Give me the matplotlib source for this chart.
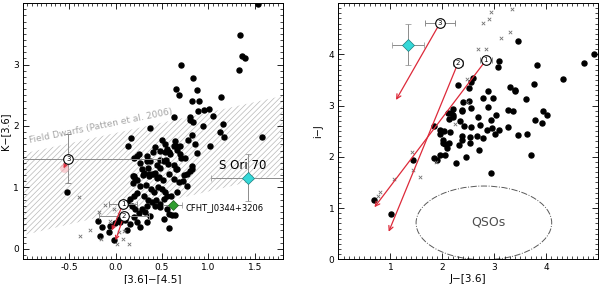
import numpy as np
import matplotlib
matplotlib.use('Agg')
import matplotlib.pyplot as plt
from matplotlib.patches import Ellipse
from matplotlib.ticker import MultipleLocator

plt.rcParams['font.family'] = ['DejaVu Sans']
plt.rcParams['hatch.linewidth'] = 0.5

# ---------------- left panel data: K-[3.6] vs [3.6]-[4.5] ----------------
left_dots = [
    (1.336, 3.485), (1.36, 3.14), (1.40, 3.10), (1.33, 2.91), (0.706, 3.0), (0.836, 2.78),
    (0.656, 2.60), (0.879, 2.59), (0.68, 2.50), (1.14, 2.47), (0.825, 2.40), (0.896, 2.40),
    (0.95, 2.26), (0.886, 2.24), (1.01, 2.28), (1.055, 2.165), (0.63, 2.14), (0.80, 2.14),
    (0.807, 2.105), (0.836, 2.07), (0.367, 1.97), (0.947, 2.0), (1.163, 2.04), (1.12, 1.91),
    (1.17, 1.825), (1.58, 1.825), (0.825, 1.857), (0.17, 1.81), (0.504, 1.765), (0.645, 1.75),
    (0.78, 1.775), (1.53, 3.99), (0.53, 1.71), (0.656, 1.68), (0.475, 1.60), (0.404, 1.575),
    (0.555, 1.63), (0.572, 1.575), (0.59, 1.55), (0.879, 1.56), (1.015, 1.68), (0.70, 1.48),
    (0.548, 1.44), (0.562, 1.386), (0.475, 1.44), (0.447, 1.36), (0.483, 1.32), (0.626, 1.36),
    (0.656, 1.305), (0.825, 1.305), (0.807, 1.266), (0.734, 1.196), (0.41, 1.22), (0.447, 1.16),
    (0.134, 1.67), (0.256, 1.537), (0.342, 1.43), (0.285, 1.305), (0.345, 1.32), (0.356, 1.22),
    (0.188, 1.18), (0.213, 1.14), (0.30, 1.196), (0.422, 1.651), (0.537, 1.58), (0.627, 1.678),
    (0.699, 1.678), (0.663, 1.613), (0.861, 1.705), (0.195, 1.472), (0.231, 1.505), (0.339, 1.505),
    (0.368, 1.434), (0.519, 1.434), (0.699, 1.543), (0.753, 1.472), (0.267, 1.397), (0.825, 1.342),
    (0.771, 1.218), (0.663, 1.299), (0.573, 1.218), (0.195, 1.191), (0.231, 1.126), (0.303, 1.234),
    (0.357, 1.191), (0.393, 1.218), (0.429, 1.234), (0.465, 1.164), (0.512, 1.126), (0.627, 1.137),
    (0.681, 1.083), (0.728, 1.110), (0.188, 1.072), (0.267, 1.029), (0.332, 1.039), (0.382, 0.974),
    (0.418, 0.920), (0.454, 1.001), (0.501, 0.974), (0.537, 0.920), (0.663, 0.931), (0.771, 1.018),
    (0.231, 0.909), (0.195, 0.855), (0.152, 0.812), (0.310, 0.866), (0.346, 0.801), (0.393, 0.758),
    (0.440, 0.801), (0.476, 0.731), (0.519, 0.812), (0.555, 0.855), (0.598, 0.866), (0.123, 0.747),
    (0.177, 0.693), (0.213, 0.650), (0.249, 0.585), (0.339, 0.693), (0.285, 0.650), (0.321, 0.606),
    (0.368, 0.531), (0.429, 0.704), (0.483, 0.677), (0.555, 0.650), (0.195, 0.514), (0.231, 0.433),
    (0.159, 0.406), (0.105, 0.477), (0.051, 0.444), (0.267, 0.352), (0.339, 0.433), (0.573, 0.569),
    (0.609, 0.552), (0.645, 0.552), (0.573, 0.336), (0.519, 0.487), (-0.194, 0.450), (-0.147, 0.363),
    (-0.165, 0.217), (-0.075, 0.271), (-0.057, 0.379), (-0.003, 0.423), (0.033, 0.487),
    (-0.021, 0.136), (0.123, 0.314), (-0.525, 0.931),
]
left_crosses = [
    (-0.392, 0.839), (-0.381, 0.217), (-0.273, 0.314), (-0.154, 0.163), (-0.111, 0.715),
    (-0.183, 0.596), (-0.057, 0.46), (0.033, 0.271), (0.080, 0.163), (0.141, 0.082),
    (0.015, 0.082), (0.094, 0.298), (-0.021, 0.65), (0.033, 0.569),
]
# field dwarf band (Patten et al. 2006): edges at x = -1.0 and 1.8
band_x = [-1.0, 1.8]
band_lo = [0.22, 1.22]
band_hi = [1.55, 2.49]

# numbered objects: label, x, y, xerr, yerr, arrow tip
left_num = ['3', '1', '2']
left_num_x = [-0.51, 0.08, 0.09]
left_num_y = [1.47, 0.73, 0.54]
left_num_xerr = [1.0, 0.15, 0.27]
left_num_yerr = [0.40, 0.0, 0.0]
left_arrow_x = [-0.56, -0.04, 0.0]
left_arrow_y = [1.31, 0.30, 0.14]

cfht_x, cfht_y, cfht_xerr = 0.615, 0.71, 0.10
sori_x, sori_y, sori_xerr, sori_yerr = 1.425, 1.16, 0.40, 0.38

# ---------------- right panel data: i-J vs J-[3.6] ----------------
right_dots = [
    (3.459, 4.257), (4.927, 4.015), (4.723, 3.832), (3.823, 3.786), (3.088, 3.871), (3.063, 3.753),
    (4.321, 3.511), (2.584, 3.537), (2.552, 3.452), (2.309, 3.406), (2.52, 3.341), (2.884, 3.288),
    (3.299, 3.36), (3.395, 3.308), (3.408, 3.282), (3.765, 3.413), (3.606, 3.131), (2.775, 3.144),
    (2.98, 3.144), (2.392, 3.066), (2.52, 3.085), (2.884, 2.967), (2.545, 2.948), (2.207, 2.928),
    (2.386, 2.902), (3.267, 2.922), (3.369, 2.889), (3.944, 2.889), (4.021, 2.817), (2.162, 2.856),
    (2.2, 2.778), (2.137, 2.738), (2.68, 2.771), (3.031, 2.823), (2.935, 2.725), (2.341, 2.692),
    (2.418, 2.607), (2.552, 2.581), (2.731, 2.62), (3.267, 2.581), (3.778, 2.719), (3.918, 2.653),
    (1.837, 2.594), (1.958, 2.522), (2.035, 2.496), (2.156, 2.476), (2.852, 2.522), (2.948, 2.555),
    (3.095, 2.529), (3.465, 2.417), (3.631, 2.443), (2.66, 2.411), (2.788, 2.372), (3.011, 2.443),
    (1.958, 2.443), (2.373, 2.411), (2.533, 2.378), (1.428, 1.946), (0.694, 1.16), (1.013, 0.885),
    (1.849, 1.978), (1.958, 2.044), (2.054, 2.044), (2.022, 2.273), (2.137, 2.273), (2.086, 2.175),
    (2.258, 1.88), (2.316, 2.24), (2.463, 1.991), (2.539, 2.273), (2.705, 2.129), (2.941, 1.684),
    (3.701, 2.031), (1.907, 1.946), (2.373, 2.326), (2.009, 2.33), (2.054, 2.247), (2.118, 2.85),
    (2.213, 2.824), (2.379, 2.915),
]
right_crosses = [
    (2.775, 4.605), (2.89, 4.69), (2.935, 4.82), (3.337, 4.886), (3.312, 4.441), (3.127, 4.31),
    (2.68, 4.11), (2.839, 4.11), (2.469, 3.524), (1.415, 2.09), (1.428, 1.736), (1.064, 1.572),
    (1.562, 1.6), (0.796, 1.31), (0.764, 1.245), (1.881, 1.90), (2.245, 2.64), (2.468, 3.065),
]
right_num = ['3', '2', '1']
right_num_x = [1.952, 2.303, 2.839]
right_num_y = [4.605, 3.832, 3.884]
right_num_xerr = [0.29, 0.10, 0.12]
right_arrow_x = [1.109, 0.968, 0.694]
right_arrow_y = [3.11, 0.538, 1.016]
sori_r_x, sori_r_y, sori_r_xerr, sori_r_yerr = 1.339, 4.19, 0.31, 0.40
qso_center = (2.80, 0.71)
qso_width, qso_height = 2.61, 1.44

RED = '#dd2a3a'
GREY = '0.55'

fig = plt.figure(figsize=(6, 2.84), dpi=100)
ax1 = fig.add_axes([0.038, 0.087, 0.433, 0.902])
ax2 = fig.add_axes([0.564, 0.087, 0.433, 0.902])


def style(ax):
    ax.tick_params(which='both', direction='in', top=True, right=True, labelsize=6.5, pad=3)
    ax.tick_params(which='major', length=4, width=0.6)
    ax.tick_params(which='minor', length=2, width=0.5)
    for s in ax.spines.values():
        s.set_linewidth(0.7)


def numbered(ax, labels, xs, ys):
    ax.scatter(xs, ys, s=48, facecolor='white', edgecolor='black', linewidth=0.8, zorder=6)
    for lab, x, y in zip(labels, xs, ys):
        ax.text(x, y, lab, fontsize=5, ha='center', va='center', zorder=7)


# ---- left ----
ax1.fill_between(band_x, band_lo, band_hi, facecolor='none', edgecolor='0.72',
                 hatch='//////', linewidth=0, zorder=0)
ax1.text(-0.92, 1.73, 'Field Dwarfs (Patten et al. 2006)', fontsize=6.5, color='0.65',
         rotation=11.5, rotation_mode='anchor', ha='left', va='baseline')

ax1.scatter([p[0] for p in left_dots], [p[1] for p in left_dots], s=13, color='black', zorder=3)
ax1.scatter([p[0] for p in left_crosses], [p[1] for p in left_crosses], s=6, marker='x',
            color='0.45', linewidth=0.6, zorder=3)

ax1.errorbar(left_num_x, left_num_y, xerr=left_num_xerr, yerr=left_num_yerr, fmt='none',
             ecolor=GREY, elinewidth=0.7, capsize=2, capthick=0.7, zorder=4)
for x0, y0, x1, y1 in zip(left_num_x, left_num_y, left_arrow_x, left_arrow_y):
    ax1.annotate('', xy=(x1, y1), xytext=(x0, y0),
                 arrowprops=dict(arrowstyle='->', color=RED, lw=0.9, shrinkA=0, shrinkB=0,
                                 mutation_scale=6), zorder=5)
ax1.scatter([left_arrow_x[0]], [left_arrow_y[0]], s=40, color='#f4a0a8', alpha=0.5,
            linewidth=0, zorder=4)
numbered(ax1, left_num, left_num_x, left_num_y)

ax1.errorbar([cfht_x], [cfht_y], xerr=[cfht_xerr], fmt='D', color='#2e9e2e', mec='#1d5e1d',
             mew=0.5, ms=5.5, ecolor=GREY, elinewidth=0.7, capsize=2, capthick=0.7, zorder=5)
ax1.text(0.755, 0.65, 'CFHT_J0344+3206', fontsize=6, va='center', ha='left')
ax1.errorbar([sori_x], [sori_y], xerr=[sori_xerr], yerr=[sori_yerr], fmt='D', color='#35d8d8',
             mec='#1b7f7f', mew=0.5, ms=6, ecolor=GREY, elinewidth=0.7, capsize=2,
             capthick=0.7, zorder=5)
ax1.text(1.11, 1.35, 'S Ori 70', fontsize=8.5, va='center', ha='left')

ax1.set_xlim(-1.0, 1.8)
ax1.set_ylim(-0.17, 4.0)
ax1.set_xticks([-0.5, 0.0, 0.5, 1.0, 1.5])
ax1.set_xticklabels(['-0.5', '0.0', '0.5', '1.0', '1.5'])
ax1.set_yticks([0, 1, 2, 3])
ax1.xaxis.set_minor_locator(MultipleLocator(0.05))
ax1.yaxis.set_minor_locator(MultipleLocator(0.1))
style(ax1)
ax1.set_xlabel('[3.6]\u2212[4.5]', fontsize=7.5, labelpad=1)
ax1.set_ylabel('K\u2212[3.6]', fontsize=7)
ax1.yaxis.set_label_coords(-0.048, 0.5)

# ---- right ----
ax2.scatter([p[0] for p in right_dots], [p[1] for p in right_dots], s=13, color='black', zorder=3)
ax2.scatter([p[0] for p in right_crosses], [p[1] for p in right_crosses], s=6, marker='x',
            color='0.45', linewidth=0.6, zorder=3)
ax2.errorbar(right_num_x, right_num_y, xerr=right_num_xerr, fmt='none', ecolor=GREY,
             elinewidth=0.7, capsize=2, capthick=0.7, zorder=4)
for x0, y0, x1, y1 in zip(right_num_x, right_num_y, right_arrow_x, right_arrow_y):
    ax2.annotate('', xy=(x1, y1), xytext=(x0, y0),
                 arrowprops=dict(arrowstyle='->', color=RED, lw=0.9, shrinkA=0, shrinkB=0,
                                 mutation_scale=8), zorder=5)
numbered(ax2, right_num, right_num_x, right_num_y)
ax2.errorbar([sori_r_x], [sori_r_y], xerr=[sori_r_xerr], yerr=[sori_r_yerr], fmt='D',
             color='#35d8d8', mec='#1b7f7f', mew=0.5, ms=6, ecolor=GREY, elinewidth=0.7,
             capsize=2, capthick=0.7, zorder=5)
ax2.add_patch(Ellipse(qso_center, qso_width, qso_height, fill=False, edgecolor='0.35',
                      linestyle='-.', linewidth=0.7))
ax2.text(2.88, 0.72, 'QSOs', fontsize=9, color='0.3', ha='center', va='center')

ax2.set_xlim(0, 5)
ax2.set_ylim(0, 5)
ax2.set_xticks([1, 2, 3, 4])
ax2.set_yticks([0, 1, 2, 3, 4])
ax2.xaxis.set_minor_locator(MultipleLocator(0.1))
ax2.yaxis.set_minor_locator(MultipleLocator(0.1))
style(ax2)
ax2.set_xlabel('J\u2212[3.6]', fontsize=7.5, labelpad=1)
ax2.set_ylabel('i\u2212J', fontsize=7)
ax2.yaxis.set_label_coords(-0.058, 0.5)

fig.savefig('out.png', dpi=100)
